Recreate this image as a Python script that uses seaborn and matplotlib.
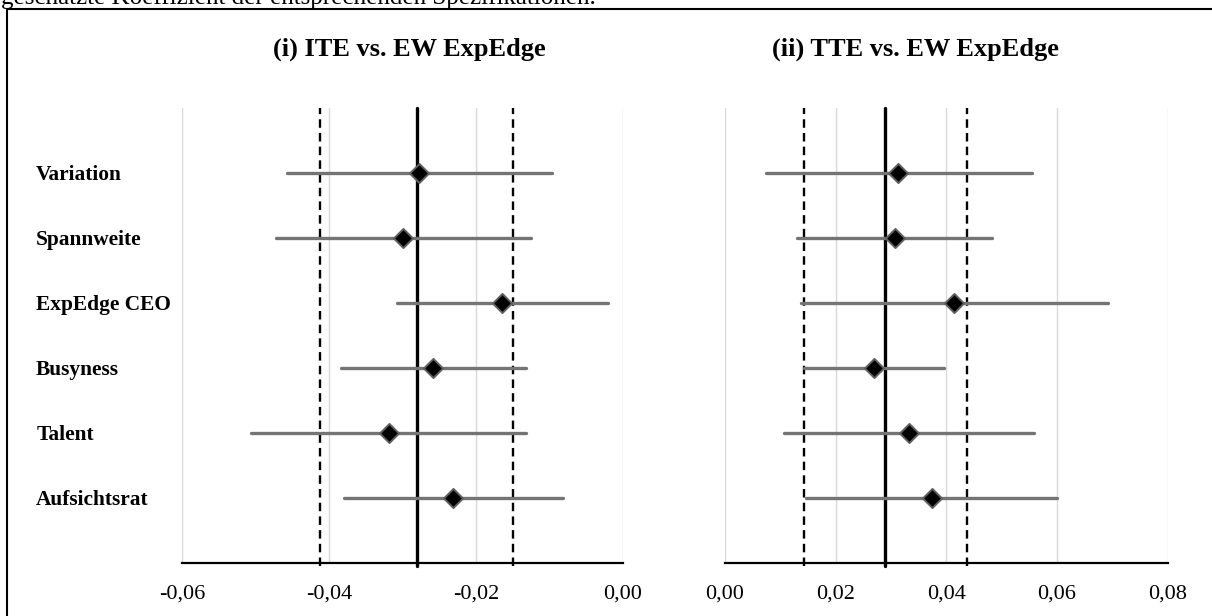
import matplotlib
matplotlib.use("Agg")
import matplotlib.pyplot as plt
from matplotlib.lines import Line2D
import seaborn as sns
import pandas as pd

# ---------------- data ----------------
categories = ["Variation", "Spannweite", "ExpEdge CEO", "Busyness", "Talent", "Aufsichtsrat"]

ite_coef = [-0.0277, -0.0299, -0.0164, -0.0258, -0.0319, -0.0231]
ite_lo = [-0.0457, -0.0472, -0.0307, -0.0383, -0.0506, -0.0379]
ite_hi = [-0.0096, -0.0125, -0.0020, -0.0132, -0.0132, -0.0082]
ite_ref = [-0.0280]            # solid reference line
ite_band = [-0.0412, -0.0150]  # dashed lines

tte_coef = [0.0313, 0.0307, 0.0414, 0.0269, 0.0333, 0.0374]
tte_lo = [0.0074, 0.0131, 0.0137, 0.0142, 0.0107, 0.0147]
tte_hi = [0.0555, 0.0483, 0.0693, 0.0396, 0.0559, 0.0600]
tte_ref = [0.0290]
tte_band = [0.0142, 0.0438]

ite_ticks = [-0.06, -0.04, -0.02, 0.00]
ite_ticklabels = ["-0,06", "-0,04", "-0,02", "0,00"]
tte_ticks = [0.00, 0.02, 0.04, 0.06, 0.08]
tte_ticklabels = ["0,00", "0,02", "0,04", "0,06", "0,08"]

titles = ["(i) ITE vs. EW ExpEdge", "(ii) TTE vs. EW ExpEdge"]
caption = "geschätzte Koeffizient der entsprechenden Spezifikationen."

# ---------------- style ----------------
sns.set_theme(style="white")
plt.rcParams["font.family"] = ["Liberation Serif", "DejaVu Serif"]
for k in ["text.color", "axes.labelcolor", "xtick.color", "ytick.color", "axes.titlecolor"]:
    plt.rcParams[k] = "black"

W, H = 1212, 616
fig = plt.figure(figsize=(W / 100, H / 100), dpi=100)
fig.patch.set_facecolor("white")

def px_axes(x0, x1, y0, y1):
    return fig.add_axes([x0 / W, 1 - y1 / H, (x1 - x0) / W, (y1 - y0) / H])

ax1 = px_axes(182, 623, 107.7, 562.7)
ax2 = px_axes(725, 1167.7, 107.7, 562.7)

ERR_COLOR = "#747474"
EDGE_COLOR = "#606060"

panels = [
    (ax1, ite_coef, ite_lo, ite_hi, ite_ref, ite_band, ite_ticks, ite_ticklabels, (-0.06, 0.0), titles[0], 0.515),
    (ax2, tte_coef, tte_lo, tte_hi, tte_ref, tte_band, tte_ticks, tte_ticklabels, (0.0, 0.08), titles[1], 0.43),
]

for i, (ax, coef, lo, hi, ref, band, ticks, tlabels, xlim, title, tx) in enumerate(panels):
    df = pd.DataFrame({"cat": categories, "coef": coef, "lo": lo, "hi": hi})
    df["pos"] = range(len(df))

    # reference lines
    for b in band:
        ax.axvline(b, color="black", lw=1.7, ls=(0, (3.6, 2.2)), ymin=-0.008, ymax=1,
                   clip_on=False, zorder=1)
    ax.axvline(ref[0], color="black", lw=2.4, ymin=-0.008, ymax=1, clip_on=False, zorder=1)

    # intervals
    lc = ax.hlines(df["pos"], df["lo"], df["hi"], color=ERR_COLOR, lw=2.4, zorder=2)
    lc.set_capstyle("round")

    # point estimates
    sns.scatterplot(data=df, x="coef", y="pos", marker="D", s=95, color="black",
                    edgecolor=EDGE_COLOR, linewidth=1.4, ax=ax, zorder=3, legend=False)

    ax.set_xlim(*xlim)
    ax.set_ylim(6, -1)
    ax.set_xticks(ticks)
    ax.set_xticklabels(tlabels, fontsize=16)
    ax.xaxis.grid(True, color="#d9d9d9", lw=1.0)
    ax.yaxis.grid(False)
    ax.set_axisbelow(True)
    ax.tick_params(axis="x", length=0, pad=16, colors="black")
    ax.set_xlabel("")
    ax.set_ylabel("")
    for s in ["top", "right", "left"]:
        ax.spines[s].set_visible(False)
    ax.spines["bottom"].set_color("black")
    ax.spines["bottom"].set_linewidth(1.6)

    if i == 0:
        ax.set_yticks(list(df["pos"]))
        ax.set_yticklabels(categories, fontsize=15.4, fontweight="bold")
        for lab in ax.get_yticklabels():
            lab.set_horizontalalignment("left")
            lab.set_verticalalignment("center_baseline")
        ax.tick_params(axis="y", length=0, pad=105, colors="black")
    else:
        ax.set_yticks([])

    t = ax.set_title(title, fontsize=19, fontweight="bold", pad=37.5, color="black")
    t.set_x(tx)

# caption (cut off at the top edge, as in the source) and frame lines
fig.text(1 / W, 1 - 4 / H, caption, fontsize=18, va="baseline", ha="left", color="black")
fig.add_artist(Line2D([7 / W, 7 / W], [1 - 9 / H, 0], transform=fig.transFigure,
                      color="black", lw=1.5))
fig.add_artist(Line2D([7 / W, 1], [1 - 9 / H, 1 - 9 / H], transform=fig.transFigure,
                      color="black", lw=1.5))

fig.savefig("out.png", dpi=100, facecolor="white")
